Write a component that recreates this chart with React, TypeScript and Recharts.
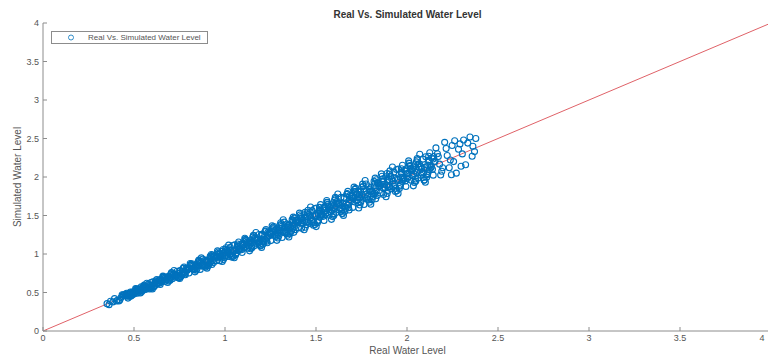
import { ReferenceLine, Scatter, ScatterChart, XAxis, YAxis } from "recharts";

// real vs simulated water level, read off the scatter cloud (one line per 0.05 slice of real level)
const realLevel = [
  0.352, 0.363, 0.371, 0.384, 0.393,
  0.404, 0.441, 0.417, 0.429, 0.409, 0.446, 0.422, 0.435,
  0.454, 0.491, 0.467, 0.479, 0.459, 0.496, 0.472, 0.485, 0.463, 0.488,
  0.504, 0.541, 0.517, 0.529, 0.509, 0.546, 0.522, 0.535, 0.513, 0.538,
  0.577, 0.556, 0.594, 0.565, 0.583, 0.552, 0.589, 0.57, 0.598, 0.561,
  0.619, 0.631, 0.601, 0.643, 0.625, 0.614, 0.649, 0.608, 0.636, 0.623,
  0.654, 0.691, 0.667, 0.679, 0.659, 0.696, 0.672, 0.685, 0.663, 0.688,
  0.727, 0.706, 0.744, 0.715, 0.733, 0.702, 0.739, 0.72, 0.748, 0.711,
  0.769, 0.781, 0.751, 0.793, 0.775, 0.764, 0.799, 0.758, 0.786, 0.773,
  0.804, 0.841, 0.817, 0.829, 0.809, 0.846, 0.822, 0.835, 0.813, 0.838,
  0.877, 0.856, 0.894, 0.865, 0.883, 0.852, 0.889, 0.87, 0.898, 0.861,
  0.919, 0.931, 0.901, 0.943, 0.925, 0.914, 0.949, 0.908, 0.936, 0.923,
  0.954, 0.991, 0.967, 0.979, 0.959, 0.996, 0.972, 0.985, 0.963, 0.988,
  1.027, 1.006, 1.044, 1.015, 1.033, 1.002, 1.039, 1.02, 1.048, 1.011,
  1.069, 1.081, 1.051, 1.093, 1.075, 1.064, 1.099, 1.058, 1.086, 1.073,
  1.104, 1.141, 1.117, 1.129, 1.109, 1.146, 1.122, 1.135, 1.113, 1.138,
  1.177, 1.156, 1.194, 1.165, 1.183, 1.152, 1.189, 1.17, 1.198, 1.161,
  1.219, 1.231, 1.201, 1.243, 1.225, 1.214, 1.249, 1.208, 1.236, 1.223,
  1.254, 1.291, 1.267, 1.279, 1.259, 1.296, 1.272, 1.285, 1.263, 1.288,
  1.327, 1.306, 1.344, 1.315, 1.333, 1.302, 1.339, 1.32, 1.348, 1.311,
  1.369, 1.381, 1.351, 1.393, 1.375, 1.364, 1.399, 1.358, 1.386, 1.373,
  1.404, 1.441, 1.417, 1.429, 1.409, 1.446, 1.422, 1.435, 1.413, 1.438,
  1.477, 1.456, 1.494, 1.465, 1.483, 1.452, 1.489, 1.47, 1.498, 1.461,
  1.519, 1.531, 1.501, 1.543, 1.525, 1.514, 1.549, 1.508, 1.536, 1.523,
  1.554, 1.591, 1.567, 1.579, 1.559, 1.596, 1.572, 1.585, 1.563, 1.588,
  1.627, 1.606, 1.644, 1.615, 1.633, 1.602, 1.639, 1.62, 1.648, 1.611,
  1.669, 1.681, 1.651, 1.693, 1.675, 1.664, 1.699, 1.658, 1.686, 1.673,
  1.704, 1.741, 1.717, 1.729, 1.709, 1.746, 1.722, 1.735, 1.713, 1.738,
  1.777, 1.756, 1.794, 1.765, 1.783, 1.752, 1.789, 1.77, 1.798, 1.761,
  1.819, 1.831, 1.801, 1.843, 1.825, 1.814, 1.849, 1.808, 1.836, 1.823,
  1.854, 1.891, 1.867, 1.879, 1.859, 1.896, 1.872, 1.885, 1.863, 1.888,
  1.927, 1.906, 1.944, 1.915, 1.933, 1.902, 1.939, 1.92, 1.948, 1.911,
  1.969, 1.981, 1.951, 1.993, 1.975, 1.964, 1.999, 1.958, 1.986, 1.973,
  2.004, 2.041, 2.017, 2.029, 2.009, 2.046, 2.022, 2.035, 2.013, 2.038,
  2.077, 2.056, 2.094, 2.065, 2.083, 2.052, 2.089, 2.07, 2.098, 2.061,
  2.119, 2.131, 2.101, 2.143, 2.125, 2.114, 2.149, 2.108, 2.136, 2.123,
  2.154, 2.191, 2.167, 2.179, 2.159, 2.196, 2.172, 2.185,
  2.207, 2.244, 2.215, 2.232, 2.221, 2.248, 2.238,
  2.256, 2.262, 2.271, 2.283, 2.291, 2.297,
  2.304, 2.311, 2.322, 2.334, 2.346, 2.358,
  2.362, 2.371, 2.378,
];

const simulatedLevel = [
  0.355, 0.342, 0.386, 0.378, 0.42,
  0.39, 0.469, 0.389, 0.436, 0.399, 0.467, 0.401, 0.47,
  0.478, 0.483, 0.427, 0.491, 0.491, 0.476, 0.476, 0.457, 0.479, 0.476,
  0.508, 0.51, 0.54, 0.52, 0.55, 0.524, 0.536, 0.495, 0.545, 0.534,
  0.557, 0.596, 0.554, 0.575, 0.568, 0.582, 0.559, 0.62, 0.598, 0.581,
  0.652, 0.62, 0.546, 0.66, 0.669, 0.587, 0.655, 0.57, 0.658, 0.607,
  0.66, 0.649, 0.697, 0.667, 0.713, 0.666, 0.69, 0.631, 0.705, 0.682,
  0.701, 0.758, 0.692, 0.728, 0.714, 0.741, 0.7, 0.785, 0.748, 0.737,
  0.811, 0.767, 0.681, 0.814, 0.831, 0.729, 0.806, 0.709, 0.814, 0.752,
  0.812, 0.789, 0.855, 0.814, 0.877, 0.809, 0.845, 0.768, 0.866, 0.831,
  0.845, 0.92, 0.83, 0.881, 0.859, 0.9, 0.841, 0.95, 0.898, 0.893,
  0.97, 0.914, 0.816, 0.969, 0.993, 0.872, 0.958, 0.849, 0.97, 0.898,
  0.963, 0.928, 1.012, 0.961, 1.04, 0.951, 0.999, 0.904, 1.026, 0.979,
  0.989, 1.082, 0.968, 1.034, 1.005, 1.059, 0.982, 1.115, 1.048, 1.049,
  1.129, 1.061, 0.951, 1.123, 1.155, 1.014, 1.109, 0.988, 1.126, 1.043,
  1.115, 1.068, 1.17, 1.108, 1.204, 1.094, 1.154, 1.041, 1.187, 1.128,
  1.133, 1.244, 1.106, 1.187, 1.15, 1.218, 1.123, 1.28, 1.198, 1.205,
  1.288, 1.208, 1.086, 1.278, 1.317, 1.157, 1.261, 1.128, 1.282, 1.189,
  1.266, 1.207, 1.327, 1.255, 1.367, 1.236, 1.308, 1.177, 1.347, 1.276,
  1.277, 1.406, 1.244, 1.34, 1.296, 1.377, 1.264, 1.445, 1.348, 1.361,
  1.447, 1.355, 1.221, 1.432, 1.479, 1.299, 1.412, 1.267, 1.438, 1.334,
  1.418, 1.347, 1.485, 1.402, 1.531, 1.379, 1.463, 1.314, 1.508, 1.425,
  1.421, 1.568, 1.382, 1.493, 1.441, 1.536, 1.405, 1.61, 1.498, 1.517,
  1.606, 1.502, 1.356, 1.587, 1.641, 1.442, 1.564, 1.407, 1.594, 1.48,
  1.569, 1.486, 1.642, 1.549, 1.694, 1.521, 1.617, 1.45, 1.668, 1.573,
  1.57, 1.735, 1.525, 1.651, 1.592, 1.7, 1.551, 1.78, 1.653, 1.678,
  1.775, 1.659, 1.501, 1.751, 1.813, 1.594, 1.725, 1.556, 1.76, 1.635,
  1.731, 1.636, 1.81, 1.706, 1.868, 1.674, 1.782, 1.597, 1.839, 1.732,
  1.724, 1.907, 1.673, 1.814, 1.747, 1.869, 1.702, 1.955, 1.813, 1.844,
  1.944, 1.816, 1.646, 1.916, 1.985, 1.747, 1.887, 1.706, 1.926, 1.791,
  1.892, 1.785, 1.977, 1.863, 2.041, 1.826, 1.946, 1.743, 2.009, 1.89,
  1.878, 2.079, 1.821, 1.977, 1.903, 2.038, 1.853, 2.13, 1.973, 2.01,
  2.108, 1.968, 1.786, 2.075, 2.152, 1.894, 2.043, 1.85, 2.087, 1.941,
  2.049, 1.93, 2.14, 2.015, 2.21, 1.974, 2.106, 1.885, 2.175, 2.044,
  2.022, 2.241, 1.959, 2.13, 2.048, 2.197, 1.994, 2.295, 2.123, 2.166,
  2.269, 2.121, 1.931, 2.233, 2.315, 2.044, 2.199, 1.998, 2.246, 2.093,
  2.205, 2.074, 2.302, 2.167, 2.378, 2.121, 2.265, 2.026,
  2.45, 2.03, 2.37, 2.12, 2.28, 2.41, 2.22,
  2.2, 2.47, 2.05, 2.36, 2.43, 2.14,
  2.3, 2.48, 2.16, 2.44, 2.52, 2.27,
  2.4, 2.33, 2.5,
];

// second batch of readings filling the core of the band (0.45 .. 2.15)
const denseReal = [
  0.461, 0.474, 0.487, 0.452, 0.495, 0.468, 0.481, 0.457, 0.491, 0.478,
  0.534, 0.547, 0.509, 0.521, 0.514, 0.54, 0.503, 0.526, 0.519, 0.544,
  0.566, 0.553, 0.579, 0.598, 0.586, 0.56, 0.572, 0.593, 0.555, 0.582,
  0.634, 0.647, 0.609, 0.621, 0.614, 0.64, 0.603, 0.626, 0.619, 0.644,
  0.666, 0.653, 0.679, 0.698, 0.686, 0.66, 0.672, 0.693, 0.655, 0.682,
  0.711, 0.724, 0.737, 0.702, 0.745, 0.718, 0.731, 0.707, 0.741, 0.728,
  0.766, 0.753, 0.779, 0.798, 0.786, 0.76, 0.772, 0.793, 0.755, 0.782,
  0.811, 0.824, 0.837, 0.802, 0.845, 0.818, 0.831, 0.807, 0.841, 0.828,
  0.884, 0.897, 0.859, 0.871, 0.864, 0.89, 0.853, 0.876, 0.869, 0.894,
  0.911, 0.924, 0.937, 0.902, 0.945, 0.918, 0.931, 0.907, 0.941, 0.928,
  0.984, 0.997, 0.959, 0.971, 0.964, 0.99, 0.953, 0.976, 0.969, 0.994,
  1.016, 1.003, 1.029, 1.048, 1.036, 1.01, 1.022, 1.043, 1.005, 1.032,
  1.084, 1.097, 1.059, 1.071, 1.064, 1.09, 1.053, 1.076, 1.069, 1.094,
  1.116, 1.103, 1.129, 1.148, 1.136, 1.11, 1.122, 1.143, 1.105, 1.132,
  1.161, 1.174, 1.187, 1.152, 1.195, 1.168, 1.181, 1.157, 1.191, 1.178,
  1.216, 1.203, 1.229, 1.248, 1.236, 1.21, 1.222, 1.243, 1.205, 1.232,
  1.261, 1.274, 1.287, 1.252, 1.295, 1.268, 1.281, 1.257, 1.291, 1.278,
  1.334, 1.347, 1.309, 1.321, 1.314, 1.34, 1.303, 1.326, 1.319, 1.344,
  1.361, 1.374, 1.387, 1.352, 1.395, 1.368, 1.381, 1.357, 1.391, 1.378,
  1.434, 1.447, 1.409, 1.421, 1.414, 1.44, 1.403, 1.426, 1.419, 1.444,
  1.466, 1.453, 1.479, 1.498, 1.486, 1.46, 1.472, 1.493, 1.455, 1.482,
  1.534, 1.547, 1.509, 1.521, 1.514, 1.54, 1.503, 1.526, 1.519, 1.544,
  1.566, 1.553, 1.579, 1.598, 1.586, 1.56, 1.572, 1.593, 1.555, 1.582,
  1.611, 1.624, 1.637, 1.602, 1.645, 1.618, 1.631, 1.607, 1.641, 1.628,
  1.666, 1.653, 1.679, 1.698, 1.686, 1.66, 1.672, 1.693, 1.655, 1.682,
  1.711, 1.724, 1.737, 1.702, 1.745, 1.718, 1.731, 1.707, 1.741, 1.728,
  1.784, 1.797, 1.759, 1.771, 1.764, 1.79, 1.753, 1.776, 1.769, 1.794,
  1.811, 1.824, 1.837, 1.802, 1.845, 1.818, 1.831, 1.807, 1.841, 1.828,
  1.884, 1.897, 1.859, 1.871, 1.864, 1.89, 1.853, 1.876, 1.869, 1.894,
  1.916, 1.903, 1.929, 1.948, 1.936, 1.91, 1.922, 1.943, 1.905, 1.932,
  1.984, 1.997, 1.959, 1.971, 1.964, 1.99, 1.953, 1.976, 1.969, 1.994,
  2.016, 2.003, 2.029, 2.048, 2.036, 2.01, 2.022, 2.043, 2.005, 2.032,
  2.061, 2.074, 2.087, 2.052, 2.095, 2.068, 2.081, 2.057, 2.091, 2.078,
  2.134, 2.147, 2.109, 2.121, 2.114, 2.14, 2.103, 2.126, 2.119, 2.144,
];

const denseSim = [
  0.455, 0.492, 0.465, 0.462, 0.497, 0.454, 0.507, 0.455, 0.505, 0.448,
  0.559, 0.536, 0.516, 0.492, 0.53, 0.574, 0.483, 0.528, 0.512, 0.555,
  0.541, 0.563, 0.609, 0.593, 0.546, 0.58, 0.572, 0.628, 0.54, 0.59,
  0.626, 0.672, 0.579, 0.635, 0.617, 0.621, 0.639, 0.623, 0.638, 0.603,
  0.699, 0.638, 0.688, 0.659, 0.707, 0.705, 0.645, 0.696, 0.646, 0.697,
  0.679, 0.737, 0.776, 0.696, 0.693, 0.744, 0.731, 0.753, 0.722, 0.738,
  0.756, 0.785, 0.741, 0.816, 0.79, 0.736, 0.818, 0.79, 0.78, 0.73,
  0.852, 0.805, 0.848, 0.753, 0.871, 0.874, 0.797, 0.811, 0.83, 0.847,
  0.844, 0.913, 0.907, 0.863, 0.8, 0.922, 0.853, 0.932, 0.845, 0.906,
  0.898, 0.962, 0.89, 0.923, 0.949, 0.888, 0.986, 0.903, 0.971, 0.864,
  1.034, 0.974, 0.973, 0.912, 0.996, 1.058, 0.912, 0.981, 0.955, 1.017,
  0.968, 1.022, 1.086, 1.038, 0.96, 1.048, 1.022, 1.11, 0.976, 1.046,
  1.069, 1.142, 1.004, 1.096, 1.069, 1.055, 1.118, 1.071, 1.104, 1.019,
  1.174, 1.077, 1.145, 1.08, 1.173, 1.189, 1.075, 1.148, 1.089, 1.158,
  1.106, 1.196, 1.253, 1.141, 1.107, 1.212, 1.181, 1.234, 1.158, 1.195,
  1.199, 1.255, 1.166, 1.277, 1.242, 1.17, 1.297, 1.237, 1.245, 1.146,
  1.327, 1.244, 1.305, 1.174, 1.337, 1.358, 1.227, 1.263, 1.273, 1.308,
  1.272, 1.372, 1.384, 1.309, 1.214, 1.39, 1.303, 1.414, 1.282, 1.363,
  1.342, 1.433, 1.316, 1.385, 1.402, 1.323, 1.466, 1.351, 1.437, 1.281,
  1.508, 1.413, 1.429, 1.333, 1.461, 1.541, 1.342, 1.433, 1.399, 1.478,
  1.396, 1.481, 1.563, 1.484, 1.374, 1.516, 1.472, 1.591, 1.413, 1.503,
  1.512, 1.612, 1.429, 1.557, 1.521, 1.489, 1.597, 1.519, 1.57, 1.435,
  1.649, 1.515, 1.602, 1.5, 1.639, 1.673, 1.504, 1.601, 1.532, 1.62,
  1.538, 1.66, 1.735, 1.591, 1.526, 1.685, 1.636, 1.721, 1.599, 1.656,
  1.652, 1.735, 1.601, 1.748, 1.704, 1.614, 1.786, 1.695, 1.721, 1.572,
  1.812, 1.693, 1.772, 1.605, 1.813, 1.852, 1.667, 1.725, 1.726, 1.779,
  1.714, 1.846, 1.876, 1.769, 1.643, 1.873, 1.768, 1.91, 1.733, 1.835,
  1.805, 1.923, 1.761, 1.866, 1.874, 1.777, 1.965, 1.818, 1.922, 1.717,
  2.003, 1.872, 1.906, 1.774, 1.947, 2.045, 1.792, 1.905, 1.862, 1.959,
  1.848, 1.965, 2.065, 1.954, 1.813, 2.009, 1.947, 2.098, 1.874, 1.985,
  1.98, 2.108, 1.879, 2.044, 1.999, 1.948, 2.102, 1.991, 2.061, 1.876,
  2.148, 1.979, 2.083, 1.946, 2.129, 2.181, 1.959, 2.078, 2.001, 2.106,
  1.986, 2.139, 2.232, 2.057, 1.96, 2.173, 2.106, 2.222, 2.056, 2.133,
  2.134, 2.267, 2.029, 2.201, 2.154, 2.1, 2.263, 2.146, 2.219, 2.024,
];

const axisTicks = [0, 0.5, 1, 1.5, 2, 2.5, 3, 3.5, 4];
const idealLine = [0, 4];

const points = [
  ...realLevel.map((real, i) => ({ real, sim: simulatedLevel[i] })),
  ...denseReal.map((real, i) => ({ real, sim: denseSim[i] })),
];

const BLUE = "#0072BD";
const AXIS = "#8c8c8c";
const TEXT = "#555";

const Ring = (props: any) => (
  <circle cx={props.cx} cy={props.cy} r={3} fill="none" stroke={BLUE} strokeWidth={1.1} />
);

// the last x tick sits on the window edge, keep its label inside
const XTick = (props: any) => {
  const { x, y, payload } = props;
  return (
    <text x={Math.min(x, 762)} y={y} dy="0.71em" textAnchor="middle" fontSize={9} fill={TEXT}>
      {payload.value}
    </text>
  );
};

export default function App() {
  return (
    <div
      style={{
        position: "absolute",
        left: 0,
        top: 0,
        width: 768,
        height: 358,
        overflow: "hidden",
        background: "#fff",
        fontFamily: "'Liberation Sans', Arial, sans-serif",
      }}
    >
      <ScatterChart width={775} height={358} margin={{ top: 23, right: 4, bottom: 0, left: 0 }}>
        <XAxis
          type="number"
          dataKey="real"
          domain={[0, 4]}
          ticks={axisTicks}
          allowDataOverflow
          height={27}
          stroke={AXIS}
          tickSize={-4}
          tickMargin={8}
          tick={<XTick />}
          interval={0}
        />
        <YAxis
          type="number"
          dataKey="sim"
          domain={[0, 4]}
          ticks={axisTicks}
          allowDataOverflow
          width={43}
          stroke={AXIS}
          tickSize={-4}
          tickMargin={8}
          tick={{ fontSize: 9, fill: TEXT }}
          interval={0}
        />
        <Scatter data={points} shape={Ring} isAnimationActive={false} />
        <ReferenceLine
          segment={[
            { x: idealLine[0], y: idealLine[0] },
            { x: idealLine[1], y: idealLine[1] },
          ]}
          stroke="#e06268"
          strokeWidth={1}
        />
      </ScatterChart>

      <div
        style={{
          position: "absolute",
          left: 0,
          width: 815,
          top: 9,
          textAlign: "center",
          fontSize: 10,
          fontWeight: "bold",
          color: "#333",
        }}
      >
        Real Vs. Simulated Water Level
      </div>
      <div
        style={{
          position: "absolute",
          left: 0,
          width: 815,
          top: 345,
          textAlign: "center",
          fontSize: 10,
          color: TEXT,
        }}
      >
        Real Water Level
      </div>
      <div
        style={{
          position: "absolute",
          left: 17,
          top: 177,
          transform: "translate(-50%, -50%) rotate(-90deg)",
          whiteSpace: "nowrap",
          fontSize: 10,
          color: TEXT,
        }}
      >
        Simulated Water Level
      </div>

      <div
        style={{
          position: "absolute",
          left: 51,
          top: 31,
          width: 155,
          height: 11,
          border: `1px solid ${AXIS}`,
          background: "#fff",
          display: "flex",
          alignItems: "center",
          fontSize: 8,
          color: TEXT,
        }}
      >
        <svg width={36} height={11}>
          <circle cx={19} cy={5.5} r={2.5} fill="none" stroke={BLUE} strokeWidth={0.8} />
        </svg>
        <span>Real Vs. Simulated Water Level</span>
      </div>
    </div>
  );
}
